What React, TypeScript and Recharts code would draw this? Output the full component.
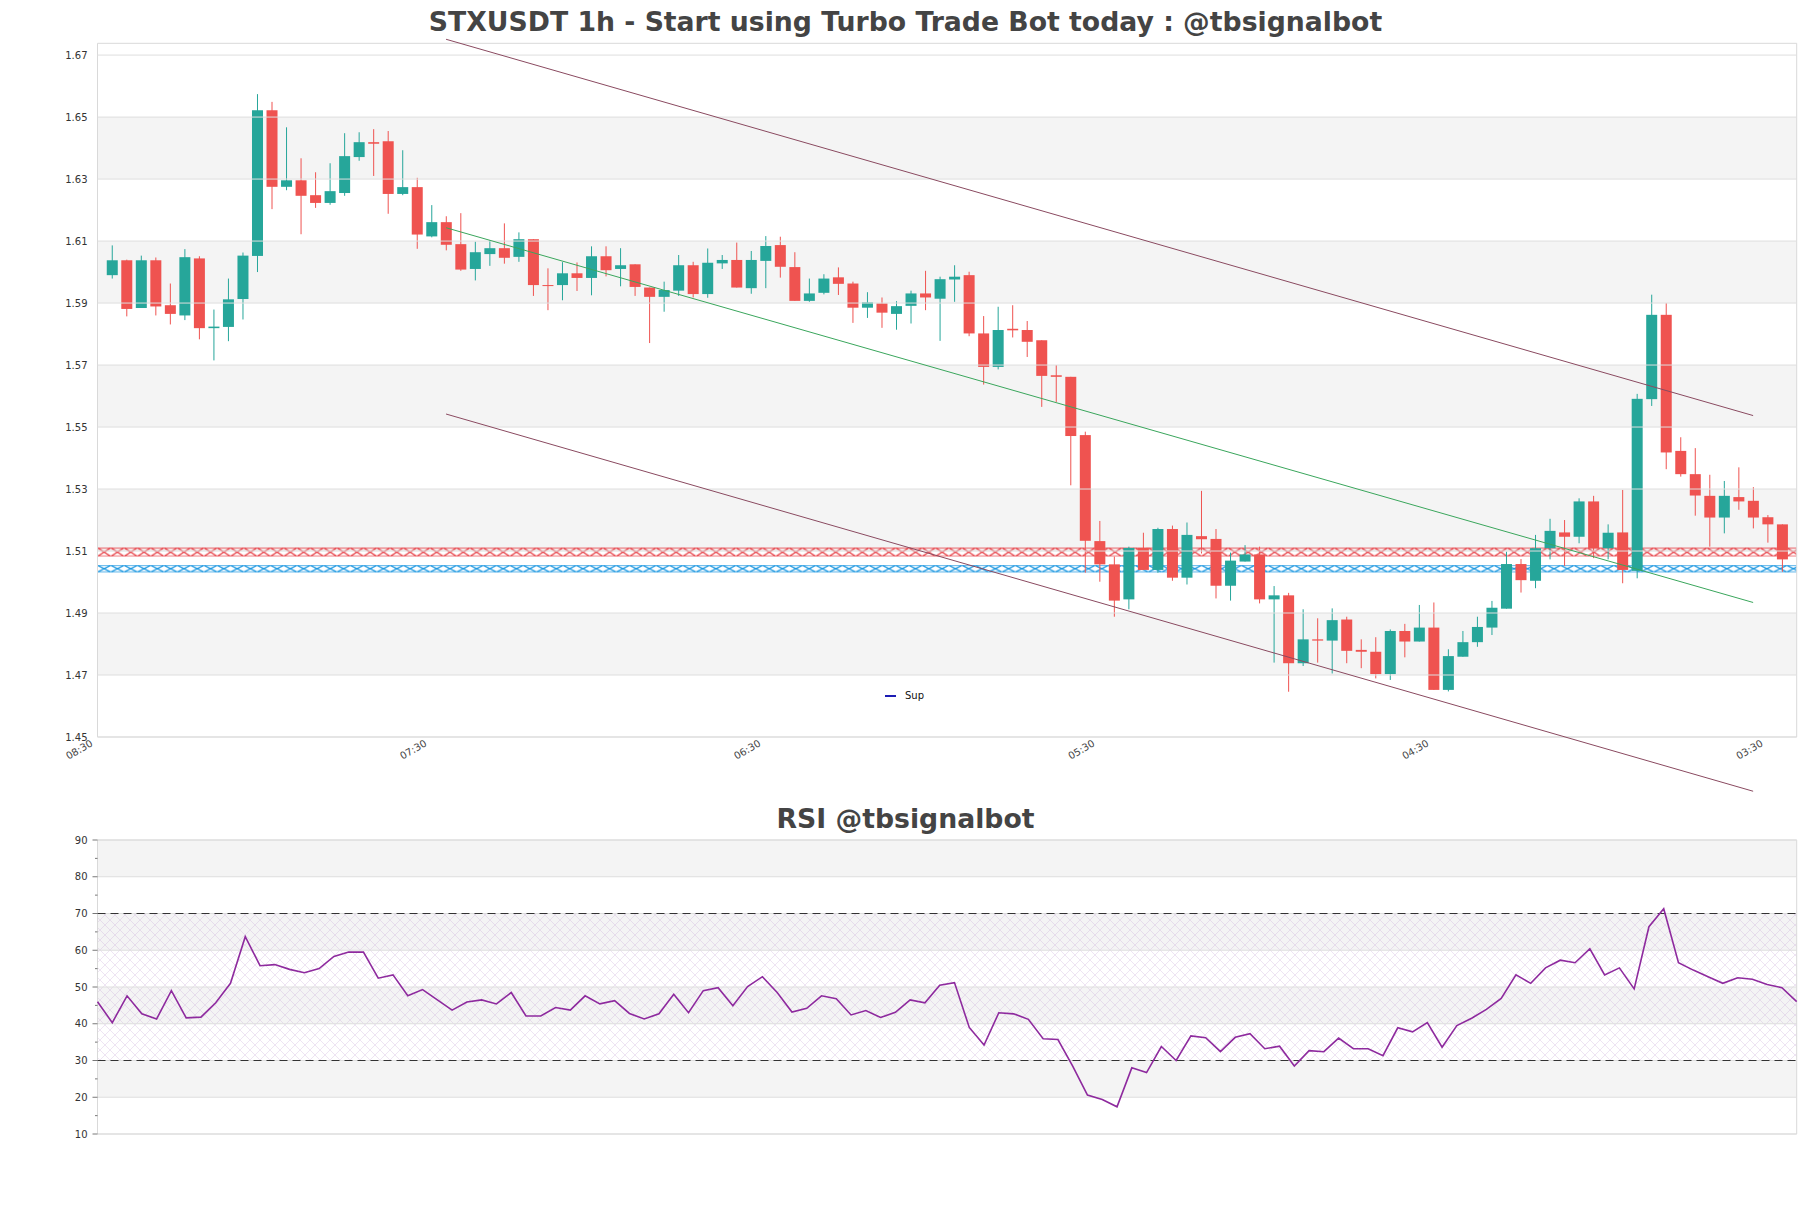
import React from "react";
import { Bar, ComposedChart, Legend, Line, ReferenceArea, ReferenceLine, XAxis, YAxis } from "recharts";

// Hourly candles (index 0 = first candle)
const OPEN = [
  1.599, 1.6038, 1.5884, 1.6038, 1.5893, 1.586, 1.6044, 1.5819, 1.5823, 1.5913,
  1.6052, 1.6522, 1.6275, 1.6296, 1.6248, 1.6223, 1.6255, 1.6371, 1.6419, 1.6422,
  1.6252, 1.6274, 1.6115, 1.6161, 1.609, 1.601, 1.6058, 1.6077, 1.6049, 1.6106,
  1.5958, 1.5958, 1.5996, 1.5981, 1.6051, 1.601, 1.6025, 1.595, 1.592, 1.594,
  1.6022, 1.5929, 1.6028, 1.6039, 1.5948, 1.6036, 1.6087, 1.6016, 1.5907, 1.5933,
  1.5983, 1.5963, 1.5885, 1.5899, 1.5865, 1.5891, 1.5931, 1.5914, 1.5976, 1.599,
  1.5802, 1.5694, 1.5817, 1.5813, 1.578, 1.5667, 1.5662, 1.5474, 1.5132, 1.5057,
  1.4944, 1.511, 1.5039, 1.5171, 1.5014, 1.5148, 1.5139, 1.4988, 1.5066, 1.5089,
  1.4944, 1.4957, 1.4738, 1.4815, 1.4811, 1.4879, 1.4781, 1.4775, 1.4703, 1.4842,
  1.4808, 1.4853, 1.4652, 1.4759, 1.4806, 1.4853, 1.4914, 1.5058, 1.5004, 1.5109,
  1.516, 1.5146, 1.526, 1.5109, 1.516, 1.5036, 1.559, 1.5862, 1.5423, 1.5348,
  1.5278, 1.5208, 1.5274, 1.5262, 1.5209, 1.5186,
];
const HIGH = [
  1.6086, 1.604, 1.6053, 1.6047, 1.5963, 1.6074, 1.6051, 1.5879, 1.5979, 1.6063,
  1.6574, 1.6549, 1.6467, 1.6367, 1.6322, 1.6351, 1.6448, 1.6451, 1.6461, 1.6455,
  1.6393, 1.6304, 1.6216, 1.618, 1.619, 1.6098, 1.6103, 1.6157, 1.6128, 1.6106,
  1.6012, 1.6032, 1.6031, 1.6083, 1.6083, 1.6077, 1.6025, 1.595, 1.5969, 1.6055,
  1.6033, 1.6076, 1.6055, 1.6095, 1.6068, 1.6116, 1.6114, 1.6064, 1.5979, 1.5993,
  1.6015, 1.5969, 1.5935, 1.5918, 1.5906, 1.594, 1.6004, 1.5985, 1.6022, 1.6001,
  1.5858, 1.5888, 1.5893, 1.5842, 1.578, 1.57, 1.5662, 1.5485, 1.5197, 1.5082,
  1.5114, 1.5159, 1.5175, 1.5182, 1.5192, 1.5294, 1.5171, 1.5095, 1.5119, 1.5114,
  1.4987, 1.4965, 1.4912, 1.4883, 1.4915, 1.4888, 1.4815, 1.4822, 1.4847, 1.4865,
  1.4926, 1.4934, 1.4783, 1.4842, 1.4888, 1.4939, 1.5098, 1.5074, 1.5152, 1.5204,
  1.52, 1.527, 1.5278, 1.5186, 1.5297, 1.5607, 1.5927, 1.59, 1.5467, 1.5432,
  1.5346, 1.5326, 1.537, 1.5306, 1.5216, 1.5186,
];
const LOW = [
  1.5979, 1.5857, 1.5884, 1.586, 1.5831, 1.5845, 1.5783, 1.5715, 1.5777, 1.5847,
  1.6, 1.6203, 1.6264, 1.6122, 1.6207, 1.6217, 1.6246, 1.6359, 1.631, 1.6188,
  1.6248, 1.6075, 1.6112, 1.607, 1.6004, 1.5973, 1.602, 1.6027, 1.6033, 1.5923,
  1.5877, 1.5909, 1.5939, 1.5925, 1.5986, 1.5954, 1.5923, 1.5771, 1.5872, 1.5923,
  1.5918, 1.5917, 1.601, 1.595, 1.593, 1.5948, 1.5982, 1.5907, 1.5904, 1.5928,
  1.5926, 1.5836, 1.5852, 1.582, 1.5814, 1.5834, 1.5877, 1.5778, 1.5904, 1.5793,
  1.5637, 1.5686, 1.5789, 1.5726, 1.5565, 1.5581, 1.5312, 1.503, 1.5001, 1.4888,
  1.4912, 1.5039, 1.503, 1.5004, 1.4992, 1.5092, 1.4947, 1.494, 1.5066, 1.4931,
  1.474, 1.4646, 1.4729, 1.474, 1.4705, 1.4738, 1.4722, 1.4689, 1.4684, 1.4757,
  1.4808, 1.4652, 1.4647, 1.4759, 1.4791, 1.4829, 1.4914, 1.4966, 1.498, 1.5073,
  1.5052, 1.5125, 1.5077, 1.5073, 1.4996, 1.5012, 1.5568, 1.5364, 1.534, 1.5214,
  1.5114, 1.5157, 1.5233, 1.5173, 1.5127, 1.5033,
];
const CLOSE = [
  1.6038, 1.5881, 1.6038, 1.5889, 1.5865, 1.6048, 1.5819, 1.5824, 1.5912, 1.6053,
  1.6522, 1.6275, 1.6296, 1.6246, 1.6223, 1.6261, 1.6374, 1.6419, 1.6414, 1.6252,
  1.6274, 1.6121, 1.6161, 1.6088, 1.6008, 1.6064, 1.6077, 1.6046, 1.6106, 1.5958,
  1.5955, 1.5996, 1.5981, 1.6051, 1.6006, 1.6022, 1.5952, 1.592, 1.5942, 1.6022,
  1.5929, 1.603, 1.6039, 1.595, 1.6039, 1.6084, 1.6017, 1.5907, 1.5931, 1.5979,
  1.5962, 1.5885, 1.5902, 1.5869, 1.589, 1.5931, 1.5918, 1.5977, 1.5985, 1.5802,
  1.5694, 1.5813, 1.5812, 1.5775, 1.5665, 1.5662, 1.5471, 1.5133, 1.5057, 1.494,
  1.511, 1.5039, 1.5171, 1.5014, 1.5152, 1.5138, 1.4988, 1.5069, 1.5089, 1.4944,
  1.4957, 1.4738, 1.4815, 1.4811, 1.4877, 1.4778, 1.4775, 1.4703, 1.4842, 1.4808,
  1.4853, 1.4652, 1.4761, 1.4806, 1.4855, 1.4917, 1.5058, 1.5006, 1.5109, 1.5165,
  1.5146, 1.526, 1.5109, 1.5159, 1.5039, 1.5591, 1.5862, 1.5418, 1.5348, 1.5279,
  1.5208, 1.5278, 1.526, 1.5208, 1.5186, 1.5073,
];

const RSI = [
  46.0, 40.3, 47.6, 42.7, 41.3, 49.0, 41.6, 41.8, 45.7, 51.0,
  63.7, 55.8, 56.1, 54.8, 53.9, 55.0, 58.3, 59.5, 59.5, 52.4,
  53.3, 47.6, 49.3, 46.5, 43.7, 45.9, 46.5, 45.4, 48.5, 42.1,
  42.1, 44.4, 43.7, 47.6, 45.4, 46.3, 42.8, 41.3, 42.7, 48.0,
  43.0, 49.0, 49.8, 44.9, 50.1, 52.8, 48.5, 43.2, 44.2, 47.6,
  46.8, 42.4, 43.6, 41.7, 43.1, 46.5, 45.7, 50.5, 51.2, 39.0,
  34.2, 43.0, 42.7, 41.2, 35.9, 35.7, 28.5, 20.6, 19.4, 17.4,
  28.0, 26.7, 33.8, 30.0, 36.7, 36.2, 32.4, 36.3, 37.3, 33.2,
  33.9, 28.5, 32.7, 32.4, 36.1, 33.2, 33.2, 31.3, 38.9, 37.8,
  40.3, 33.6, 39.5, 41.5, 43.9, 46.9, 53.3, 51.0, 55.2, 57.3,
  56.6, 60.4, 53.3, 55.2, 49.5, 66.4, 71.3, 56.6, 54.6, 52.8,
  51.0, 52.5, 52.1, 50.7, 49.8, 46.0,
];

const TIME_TICKS = [-1, 22, 45, 68, 91, 114];
const TIME_LABELS = ["08:30", "07:30", "06:30", "05:30", "04:30", "03:30"];
const PRICE_TICKS = [1.45, 1.47, 1.49, 1.51, 1.53, 1.55, 1.57, 1.59, 1.61, 1.63, 1.65, 1.67];
const PRICE_TOP = 1.6738;
const RSI_TICKS = [10, 15, 20, 25, 30, 35, 40, 45, 50, 55, 60, 65, 70, 75, 80, 85, 90];

// channel and trend lines: [index, price] end points
const UPPER_CHANNEL = [[23, 1.6751], [113, 1.5537]];
const LOWER_CHANNEL = [[23, 1.5542], [113, 1.4325]];
const TREND_LINE = [[23, 1.6143], [113, 1.4934]];
const RESISTANCE_BAND = [1.5082, 1.5111];
const SUPPORT_BAND = [1.5031, 1.5055];

const GREEN = "#26a69a";
const RED = "#ef5350";
const BAND_GRAY = "#f4f4f4";
const GRID = "#dedede";
const FONT = "DejaVu Sans, sans-serif";

const candles = OPEN.map((open, i) => ({ i, open, high: HIGH[i], low: LOW[i], close: CLOSE[i] }));
const rsiRows = RSI.map((rsi, i) => ({ i, rsi }));

const priceBands = PRICE_TICKS.filter((_, k) => k % 2 === 1 && k + 1 < PRICE_TICKS.length).map((t, k) => [t, PRICE_TICKS[2 * k + 2]]);
const rsiMajor = RSI_TICKS.filter((t) => t % 10 === 0);
const rsiBands = rsiMajor.filter((_, k) => k % 2 === 1 && k + 1 < rsiMajor.length).map((t, k) => [t, rsiMajor[2 * k + 2]]);

function Candle(props: any) {
  const { x, y, width, height, payload } = props;
  const { open, close, high, low } = payload;
  const color = close >= open ? GREEN : RED;
  const top = Math.min(y, y + height);
  const h = Math.abs(height);
  const ppu = high > low ? h / (high - low) : 0;
  const bodyTop = top + (high - Math.max(open, close)) * ppu;
  const bodyH = Math.max(1, Math.abs(open - close) * ppu);
  const cx = x + width / 2;
  return (
    <g>
      <line x1={cx} x2={cx} y1={top} y2={top + h} stroke={color} strokeWidth={1} />
      <rect x={x} y={bodyTop} width={width} height={bodyH} fill={color} />
    </g>
  );
}

function TimeTick({ x, y, payload }: any) {
  const label = TIME_LABELS[TIME_TICKS.indexOf(payload.value)];
  return (
    <g transform={`translate(${x - 8},${y + 1.5}) rotate(-30)`}>
      <text x={0} y={0} dy={8} textAnchor="end" fontSize={10} fill="#444" fontFamily={FONT}>
        {label}
      </text>
    </g>
  );
}

function PriceTick({ x, y, payload }: any) {
  return (
    <text x={x - 10} y={y} dy={3.5} textAnchor="end" fontSize={10} fill="#333" fontFamily={FONT}>
      {Number(payload.value).toFixed(2)}
    </text>
  );
}

function RsiTick({ x, y, payload }: any) {
  const major = payload.value % 10 === 0;
  return (
    <g>
      <line x1={x - (major ? 5 : 2.5)} x2={x} y1={y} y2={y} stroke="#555" strokeWidth={0.8} />
      {major ? (
        <text x={x - 10} y={y} dy={3.5} textAnchor="end" fontSize={10} fill="#333" fontFamily={FONT}>
          {payload.value}
        </text>
      ) : null}
    </g>
  );
}

function SupLegend() {
  return (
    <div style={{ display: "flex", alignItems: "center", fontFamily: FONT, fontSize: 10, color: "#111" }}>
      <svg width={20} height={6}>
        <line x1={0} x2={11} y1={3} y2={3} stroke="#1c1cb4" strokeWidth={2} />
      </svg>
      <span>Sup</span>
    </div>
  );
}

const titleStyle: React.CSSProperties = {
  position: "absolute",
  left: 0,
  width: 1811,
  textAlign: "center",
  fontFamily: FONT,
  fontWeight: "bold",
  fontSize: 26.7,
  lineHeight: 1,
  color: "#444",
};

export default function App() {
  return (
    <div style={{ position: "absolute", left: 0, top: 0, width: 1811, height: 1208, background: "#fff", fontFamily: FONT }}>
      <div style={{ ...titleStyle, top: 8.7 }}>STXUSDT 1h - Start using Turbo Trade Bot today : @tbsignalbot</div>
      <div style={{ ...titleStyle, top: 805.7 }}>RSI @tbsignalbot</div>

      <div style={{ position: "absolute", left: 0, top: 0 }}>
        <ComposedChart width={1811} height={800} data={candles} margin={{ top: 43.3, right: 14.3, bottom: 33, left: 37.5 }}>
          <defs>
            <pattern id="resHatch" patternUnits="objectBoundingBox" x={0} y={0} width={13.3 / 1699} height={1}>
              <path d="M0 0.6 L13.3 0.6 M0 8.4 L13.3 8.4" stroke="#e5343b" strokeWidth={0.7} fill="none" />
              <path d="M0.5 0.6 L12.8 8.4 M0.5 8.4 L12.8 0.6" stroke="#e5343b" strokeWidth={1.2} fill="none" />
            </pattern>
            <pattern id="supHatch" patternUnits="objectBoundingBox" x={0} y={0} width={13.3 / 1699} height={1}>
              <path d="M0 0.6 L13.3 0.6 M0 6.8 L13.3 6.8" stroke="#1996e0" strokeWidth={0.7} fill="none" />
              <path d="M0.5 0.6 L12.8 6.8 M0.5 6.8 L12.8 0.6" stroke="#1996e0" strokeWidth={1.2} fill="none" />
            </pattern>
          </defs>
          <XAxis
            dataKey="i"
            type="number"
            domain={[-1, 116]}
            ticks={TIME_TICKS}
            tick={<TimeTick />}
            axisLine={false}
            tickLine={false}
            tickSize={0}
            tickMargin={0}
            height={30}
            interval={0}
          />
          <YAxis
            type="number"
            domain={[PRICE_TICKS[0], PRICE_TOP]}
            ticks={PRICE_TICKS}
            tick={<PriceTick />}
            axisLine={false}
            tickLine={false}
            tickSize={0}
            tickMargin={0}
            width={60}
            interval={0}
          />
          {priceBands.map(([a, b]) => (
            <ReferenceArea key={`band-${a}`} y1={a} y2={b} fill={BAND_GRAY} fillOpacity={1} stroke="none" />
          ))}
          {PRICE_TICKS.map((t) => (
            <ReferenceLine key={`grid-${t}`} y={t} stroke={GRID} strokeWidth={1} />
          ))}
          <ReferenceArea y1={RESISTANCE_BAND[0]} y2={RESISTANCE_BAND[1]} fill="url(#resHatch)" fillOpacity={1} stroke="none" />
          <ReferenceArea y1={SUPPORT_BAND[0]} y2={SUPPORT_BAND[1]} fill="url(#supHatch)" fillOpacity={1} stroke="none" />
          <Bar dataKey={(d: any) => [d.low, d.high]} barSize={11} shape={<Candle />} isAnimationActive={false} />
          <ReferenceLine
            segment={[{ x: UPPER_CHANNEL[0][0], y: UPPER_CHANNEL[0][1] }, { x: UPPER_CHANNEL[1][0], y: UPPER_CHANNEL[1][1] }]}
            stroke="#8a4a60"
            strokeWidth={1}
            ifOverflow="visible"
          />
          <ReferenceLine
            segment={[{ x: LOWER_CHANNEL[0][0], y: LOWER_CHANNEL[0][1] }, { x: LOWER_CHANNEL[1][0], y: LOWER_CHANNEL[1][1] }]}
            stroke="#8a4a60"
            strokeWidth={1}
            ifOverflow="visible"
          />
          <ReferenceLine
            segment={[{ x: TREND_LINE[0][0], y: TREND_LINE[0][1] }, { x: TREND_LINE[1][0], y: TREND_LINE[1][1] }]}
            stroke="#3aa65c"
            strokeWidth={1}
            ifOverflow="visible"
          />
          <ReferenceArea y1={PRICE_TICKS[0]} y2={PRICE_TOP} fill="none" stroke="#d9d9d9" strokeWidth={1} />
          <Legend
            layout="horizontal"
            verticalAlign="middle"
            align="center"
            content={() => <SupLegend />}
            wrapperStyle={{ left: 885, top: 690, width: 60, height: 14 }}
          />
        </ComposedChart>
      </div>

      <div style={{ position: "absolute", left: 0, top: 800 }}>
        <ComposedChart width={1811} height={408} data={rsiRows} margin={{ top: 40, right: 14.3, bottom: 74, left: 37.5 }}>
          <defs>
            <pattern id="rsiHatch" patternUnits="userSpaceOnUse" width={10} height={10}>
              <path d="M0 0 L10 10 M10 0 L0 10" stroke="#b88fcc" strokeOpacity={0.35} strokeWidth={0.7} fill="none" />
            </pattern>
          </defs>
          <XAxis dataKey="i" type="number" domain={[0, RSI.length - 1]} hide />
          <YAxis
            type="number"
            domain={[10, 90]}
            ticks={RSI_TICKS}
            tick={<RsiTick />}
            axisLine={false}
            tickLine={false}
            tickSize={0}
            tickMargin={0}
            width={60}
            interval={0}
          />
          {rsiBands.map(([a, b]) => (
            <ReferenceArea key={`rband-${a}`} y1={a} y2={b} fill={BAND_GRAY} fillOpacity={1} stroke="none" />
          ))}
          <ReferenceArea y1={30} y2={70} fill="url(#rsiHatch)" fillOpacity={1} stroke="none" />
          {rsiMajor.map((t) => (
            <ReferenceLine key={`rgrid-${t}`} y={t} stroke={GRID} strokeWidth={1} />
          ))}
          <ReferenceLine y={70} stroke="#333" strokeDasharray="8 5" strokeWidth={1.2} />
          <ReferenceLine y={30} stroke="#333" strokeDasharray="8 5" strokeWidth={1.2} />
          <Line type="linear" dataKey="rsi" stroke="#8e2a9e" strokeWidth={1.6} dot={false} isAnimationActive={false} />
          <ReferenceArea y1={10} y2={90} fill="none" stroke="#d9d9d9" strokeWidth={1} />
        </ComposedChart>
      </div>
    </div>
  );
}
